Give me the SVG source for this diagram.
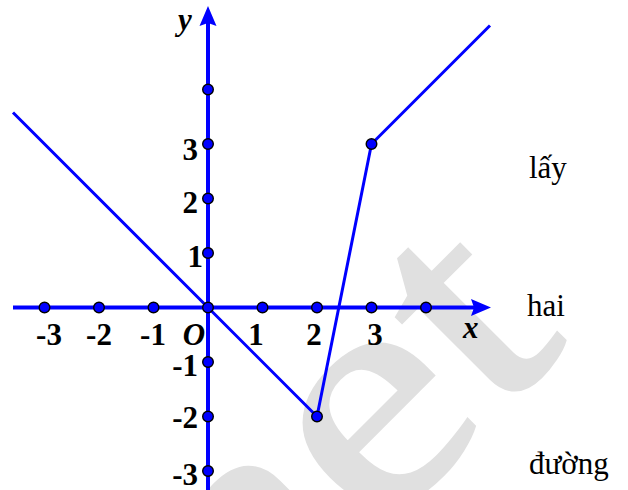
<svg xmlns="http://www.w3.org/2000/svg" width="628" height="490" viewBox="0 0 628 490">
<style>
.ax{stroke:#0000FF;stroke-width:4;fill:none}
.gr{stroke:#0000FF;stroke-width:3;fill:none;stroke-linejoin:round}
.pt{fill:#0000FF;stroke:#000;stroke-width:1.4}
.lb{font-family:"Liberation Serif","Times New Roman",serif;font-weight:bold;font-size:31px;fill:#000}
.it{font-style:italic}
.tx{font-family:"Liberation Serif","Times New Roman",serif;font-size:31px;fill:#000}
.wm{font-family:"Liberation Serif","Times New Roman",serif;font-size:320px;fill:#e0e0e0;stroke:#e0e0e0;stroke-width:4}
</style>
<rect width="628" height="490" fill="#fff"/>
<text class="wm" transform="translate(238,675) rotate(-45) scale(1.2,1)">net</text>
<g id="connectors">
<line class="ax" x1="13" y1="307.5" x2="474" y2="307.5"/>
<polygon fill="#0000FF" points="491,307.5 471,299 474,307.5 471,316"/>
<line class="ax" x1="208" y1="490" x2="208" y2="23"/>
<polygon fill="#0000FF" points="208,6 216.5,26 208,23 199.5,26"/>
<polyline class="gr" points="13,112.5 208,307.5 317,416.5 371.5,144 490,25.5"/>
</g>
<g id="points">
<circle class="pt" cx="44.5" cy="307.5" r="5.3"/>
<circle class="pt" cx="99" cy="307.5" r="5.3"/>
<circle class="pt" cx="153.5" cy="307.5" r="5.3"/>
<circle class="pt" cx="208" cy="307.5" r="5.3"/>
<circle class="pt" cx="262.5" cy="307.5" r="5.3"/>
<circle class="pt" cx="317" cy="307.5" r="5.3"/>
<circle class="pt" cx="371.5" cy="307.5" r="5.3"/>
<circle class="pt" cx="426" cy="307.5" r="5.3"/>
<circle class="pt" cx="208" cy="253" r="5.3"/>
<circle class="pt" cx="208" cy="198.5" r="5.3"/>
<circle class="pt" cx="208" cy="144" r="5.3"/>
<circle class="pt" cx="208" cy="89.5" r="5.3"/>
<circle class="pt" cx="208" cy="362" r="5.3"/>
<circle class="pt" cx="208" cy="416.5" r="5.3"/>
<circle class="pt" cx="208" cy="471" r="5.3"/>
<circle class="pt" cx="317" cy="416.5" r="5.3"/>
<circle class="pt" cx="371.5" cy="144" r="5.3"/>
</g>
<g id="labels">
<text class="lb it" x="178" y="30">y</text>
<text class="lb it" x="463" y="338">x</text>
<text class="lb" x="198" y="160" text-anchor="end">3</text>
<text class="lb" x="198" y="213" text-anchor="end">2</text>
<text class="lb" x="203" y="267" text-anchor="end">1</text>
<text class="lb" x="198" y="376" text-anchor="end">-1</text>
<text class="lb" x="198" y="428" text-anchor="end">-2</text>
<text class="lb" x="198" y="485" text-anchor="end">-3</text>
<text class="lb" x="49" y="345" text-anchor="middle">-3</text>
<text class="lb" x="99" y="345" text-anchor="middle">-2</text>
<text class="lb" x="153" y="345" text-anchor="middle">-1</text>
<text class="lb it" x="194" y="345" text-anchor="middle">O</text>
<text class="lb" x="256" y="345" text-anchor="middle">1</text>
<text class="lb" x="314" y="345" text-anchor="middle">2</text>
<text class="lb" x="375" y="345" text-anchor="middle">3</text>
</g>
<g id="side-text">
<text class="tx" x="529" y="178">lấy</text>
<text class="tx" x="527" y="316">hai</text>
<text class="tx" x="529" y="474">đường</text>
</g>
</svg>
